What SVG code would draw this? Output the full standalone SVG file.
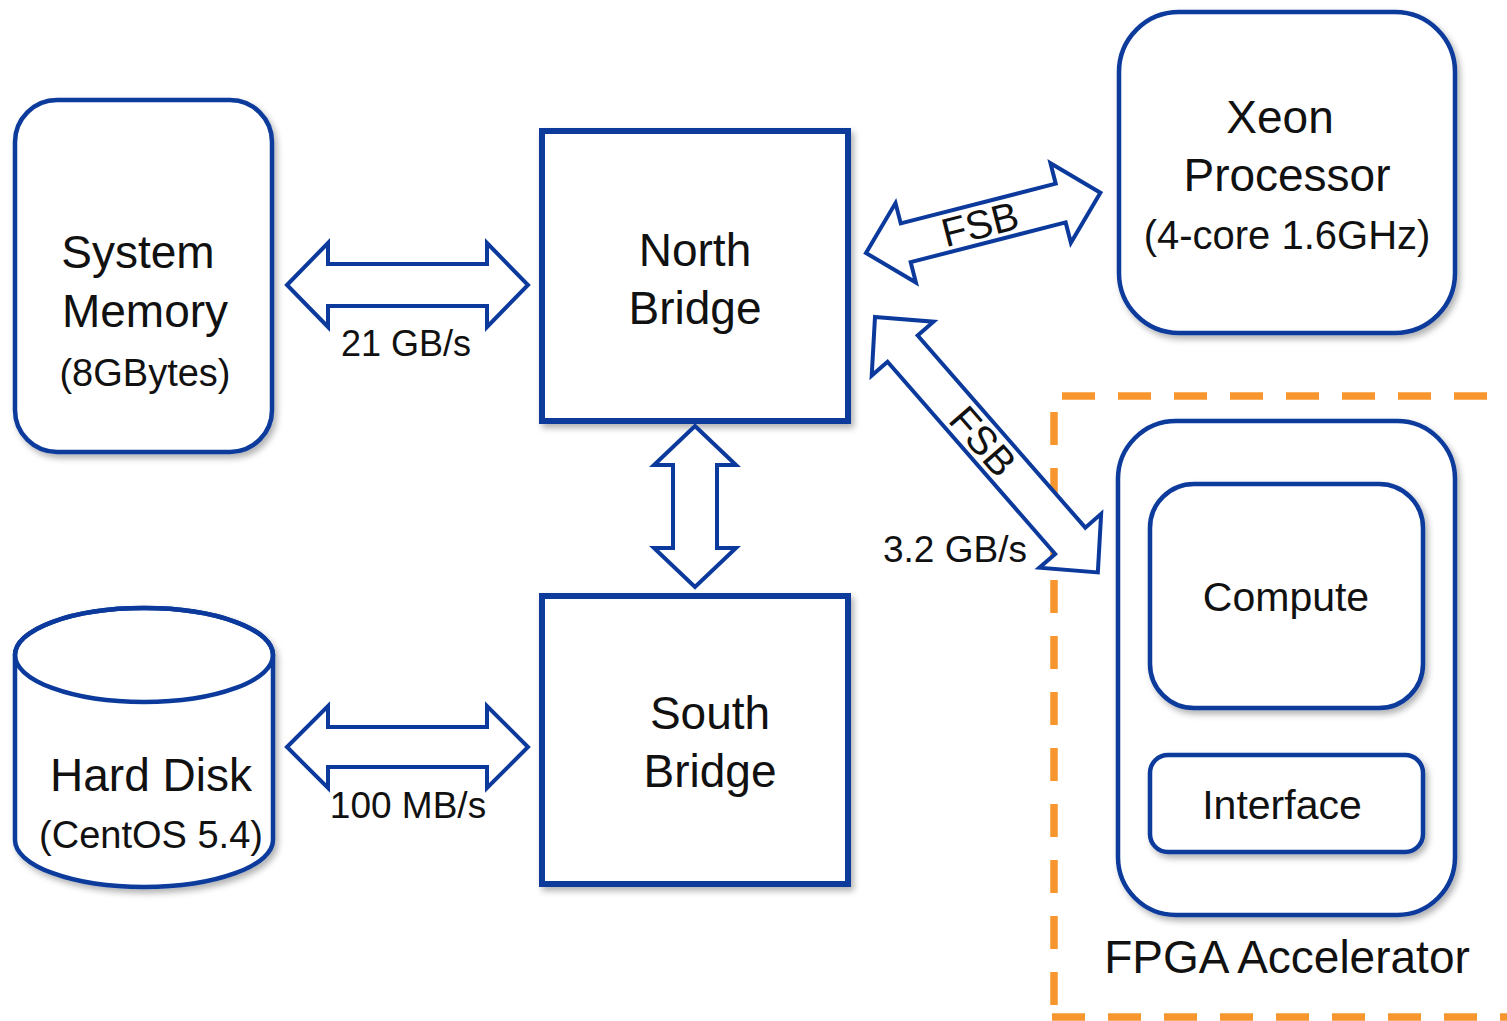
<svg xmlns="http://www.w3.org/2000/svg" width="1507" height="1021" viewBox="0 0 1507 1021">
<defs>
<style>
.box{fill:#fff;stroke:#0B3A9C;stroke-width:4.5;filter:url(#sh)}
.bridge{fill:#fff;stroke:#0B3A9C;stroke-width:6;filter:url(#sh)}
.arr{fill:#fff;stroke:#0B3A9C;stroke-width:4;stroke-linejoin:miter}
.t{font-family:"Liberation Sans",Arial,sans-serif;fill:#111;text-anchor:middle}
.dash{fill:none;stroke:#F7962E;stroke-width:7.5;stroke-dasharray:33 23}
</style>
<filter id="sh" x="-10%" y="-10%" width="125%" height="125%">
<feDropShadow dx="3" dy="4" stdDeviation="3" flood-color="#000" flood-opacity="0.3"/>
</filter>
</defs>
<rect width="1507" height="1021" fill="#fff"/>

<g id="fpga-region">
<line class="dash" x1="1062" y1="396" x2="1520" y2="396"/>
<line class="dash" x1="1054" y1="412" x2="1054" y2="1021"/>
<line class="dash" x1="1052" y1="1017" x2="1520" y2="1017"/>
</g>

<g id="system-memory">
<rect class="box" x="15" y="100" width="257" height="352" rx="42"/>
<text class="t" x="138" y="268" font-size="46">System</text>
<text class="t" x="145" y="327" font-size="46">Memory</text>
<text class="t" x="145" y="386" font-size="38">(8GBytes)</text>
</g>

<g id="north-bridge">
<rect class="bridge" x="542" y="131" width="306" height="290"/>
<text class="t" x="695" y="266" font-size="46">North</text>
<text class="t" x="695" y="324" font-size="46">Bridge</text>
</g>

<g id="south-bridge">
<rect class="bridge" x="542" y="596" width="306" height="288"/>
<text class="t" x="710" y="729" font-size="46">South</text>
<text class="t" x="710" y="787" font-size="46">Bridge</text>
</g>

<g id="xeon">
<rect class="box" x="1119" y="12" width="336" height="321" rx="60"/>
<text class="t" x="1280" y="133" font-size="46">Xeon</text>
<text class="t" x="1287" y="191" font-size="46">Processor</text>
<text class="t" x="1287" y="249" font-size="40">(4-core 1.6GHz)</text>
</g>

<g id="hard-disk">
<path class="box" d="M15,655 L15,840 A129,47 0 0 0 273,840 L273,655 A129,47 0 0 0 15,655 Z"/>
<ellipse cx="144" cy="655" rx="129" ry="47" fill="none" stroke="#0B3A9C" stroke-width="4.5"/>
<text class="t" x="151" y="791" font-size="46">Hard Disk</text>
<text class="t" x="151" y="848" font-size="38">(CentOS 5.4)</text>
</g>

<g id="fpga-accelerator">
<rect class="box" x="1118" y="421" width="337" height="494" rx="58"/>
<text class="t" x="1287" y="973" font-size="46">FPGA Accelerator</text>
</g>

<g id="compute">
<rect class="box" x="1150" y="484" width="273" height="224" rx="44"/>
<text class="t" x="1286" y="611" font-size="41">Compute</text>
</g>

<g id="interface">
<rect class="box" x="1150" y="755" width="273" height="97" rx="18"/>
<text class="t" x="1282" y="819" font-size="41">Interface</text>
</g>

<g id="connectors">
<polygon class="arr" transform="translate(287,285)" points="0,0 41,-42 41,-21 200,-21 200,-42 241,0 200,42 200,21 41,21 41,42"/>
<text class="t" x="406" y="356" font-size="36">21 GB/s</text>

<polygon class="arr" transform="translate(287,747)" points="0,0 41,-41 41,-20 200,-20 200,-41 241,0 200,41 200,20 41,20 41,41"/>
<text class="t" x="408" y="818" font-size="37">100 MB/s</text>

<polygon class="arr" transform="translate(695,426) rotate(90)" points="0,0 39,-41 39,-22 122,-22 122,-41 161,0 122,41 122,22 39,22 39,41"/>

<polygon class="arr" transform="translate(866,253) rotate(-14.4)" points="0,0 41,-41 41,-20 201,-20 201,-41 242,0 201,41 201,20 41,20 41,41"/>
<text class="t" font-size="40" transform="translate(980,224) rotate(-14.4)" y="14">FSB</text>

<polygon class="arr" transform="translate(875,317) rotate(48.9)" points="0,0 42,-41 42,-20 297,-20 297,-41 339,0 297,41 297,20 42,20 42,41"/>
<text class="t" font-size="40" transform="translate(983,441) rotate(48.9)" y="14">FSB</text>
<text class="t" x="955" y="562" font-size="37">3.2 GB/s</text>
</g>
</svg>
